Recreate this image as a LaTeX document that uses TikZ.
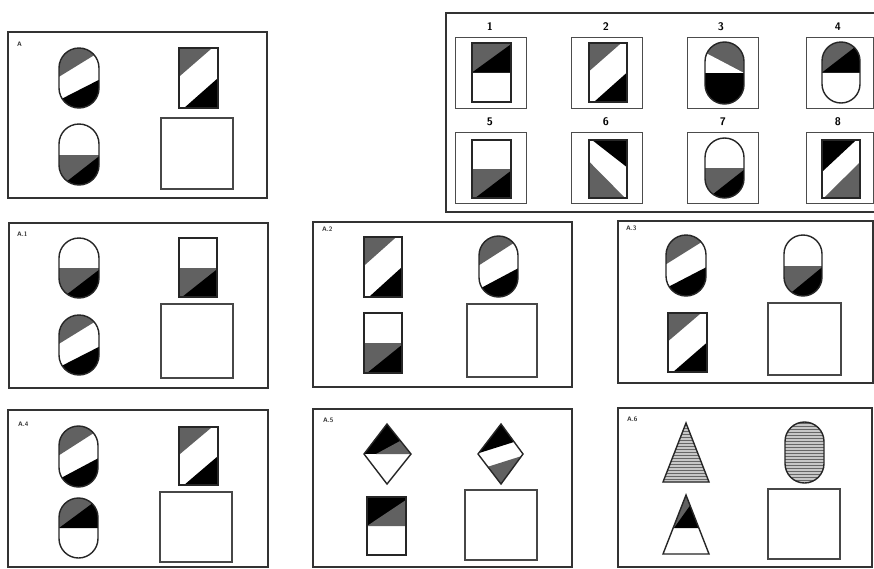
\documentclass[tikz,border=0pt]{standalone}
\colorlet{gf}{black!62}
\tikzset{
 shp/.style={line width=1.4pt, draw=black!85},
 frame/.style={line width=2pt, draw=black!80},
 ans/.style={line width=1.5pt, draw=black!72},
 optbox/.style={line width=1pt, draw=black!70},
 plabel/.style={font=\fontsize{6.5}{6.5}\selectfont\sffamily\bfseries, anchor=west, inner sep=0pt, text=black!80},
 numlabel/.style={font=\fontsize{11}{11}\selectfont\sffamily\bfseries, inner sep=0pt},
 hatchline/.style={line width=0.9pt, draw=black!60},
}
\newcommand\Capsule[5]{%
 \begin{scope}[shift={(#1,#2)}]
 \def\W{#3}\def\H{#4}%
 \begin{scope}\clip[rounded corners=#3*0.5pt] (0,0) rectangle (#3,#4); #5\end{scope}
 \draw[shp, rounded corners=#3*0.5pt] (0,0) rectangle (#3,#4);
 \end{scope}}
\newcommand\Rect[5]{%
 \begin{scope}[shift={(#1,#2)}]
 \def\W{#3}\def\H{#4}%
 \begin{scope}\clip (0,0) rectangle (#3,#4); #5\end{scope}
 \draw[shp] (0,0) rectangle (#3,#4);
 \end{scope}}
\newcommand\CapDiag{\fill[gf] (0,-1) -- (\W,-1) -- (\W,0.07*\H) -- (0,0.48*\H) -- cycle;
 \fill[black] (0,0.87*\H) -- (\W,0.53*\H) -- (\W,\H+1) -- (0,\H+1) -- cycle;}
\newcommand\RectDiag{\fill[gf] (0,0) -- (0.85*\W,0) -- (0,0.48*\H) -- cycle;
 \fill[black] (0.13*\W,\H) -- (\W,0.5*\H) -- (\W,\H) -- cycle;}
\newcommand\BotHalf{\fill[gf] (0,0.5*\H) rectangle (\W,\H+1);
 \fill[black] (0.08*\W,\H) -- (\W,0.53*\H) -- (\W,\H+1) -- (0.08*\W,\H+1) -- cycle;}
\newcommand\TopHalf{\fill[gf] (0,-1) rectangle (\W,0.5*\H);
 \fill[black] (0,0.5*\H) -- (\W,0.02*\H) -- (\W,0.5*\H) -- cycle;}
\newcommand\TopHalfRev{\fill[black] (0,-1) rectangle (\W,0.5*\H);
 \fill[gf] (0,0.5*\H) -- (\W,0.05*\H) -- (\W,0.5*\H) -- cycle;}
\newcommand\OptThree{\fill[gf] (0,-1) rectangle (\W,0.5*\H);
 \fill[white] (0,0.17*\H) -- (\W,0.5*\H) -- (0,0.5*\H) -- cycle;
 \fill[black] (0,0.5*\H) rectangle (\W,\H+1);}
\newcommand\OptSix{\fill[black] (0.08*\W,0) -- (\W,0) -- (\W,0.47*\H) -- cycle;
 \fill[gf] (0,0.37*\H) -- (0,\H) -- (0.95*\W,\H) -- cycle;}
\newcommand\OptEight{\fill[black] (0,0) -- (0.9*\W,0) -- (0,0.55*\H) -- cycle;
 \fill[gf] (0.05*\W,\H) -- (\W,0.38*\H) -- (\W,\H) -- cycle;}
\newcommand\HatchFill{\fill[black!22] (0,0) rectangle (\W,\H);
 \foreach \yy in {1.5,4.5,...,61} \draw[hatchline] (0,\yy) -- (\W,\yy);}
\begin{document}
\begin{tikzpicture}[x=1pt,y=-1pt]
\useasboundingbox (0,0) rectangle (874,568);
\fill[white] (0,0) rectangle (874,568);

% ---------- Panel A ----------
\draw[frame] (8,32) rectangle (267,198);
\node[plabel] (labA) at (17,44) {A};
\Capsule{59}{48}{40}{60}{\CapDiag}
\Rect{179}{48}{39}{60}{\RectDiag}
\Capsule{59}{124}{40}{61}{\BotHalf}
\draw[ans] (161,118) rectangle (233,189);

% ---------- Options ----------
\draw[frame] (446,13) rectangle (880,212);
\foreach \bx/\by in {455/37, 571/37, 687/37, 455/132, 571/132, 687/132}
  \draw[optbox] (\bx,\by) rectangle ++(71,71);
\draw[optbox] (806,37) rectangle (873,108);
\draw[optbox] (806,132) rectangle (873,203);
\node[numlabel] (n1) at (490,27) {1};
\node[numlabel] (n2) at (606,27) {2};
\node[numlabel] (n3) at (721,27) {3};
\node[numlabel] (n4) at (838,27) {4};
\node[numlabel] (n5) at (490,122) {5};
\node[numlabel] (n6) at (606,122) {6};
\node[numlabel] (n7) at (723,122) {7};
\node[numlabel] (n8) at (838,122) {8};
\Rect{472}{43}{39}{59}{\TopHalf}
\Rect{589}{43}{38}{59}{\RectDiag}
\Capsule{705}{42}{39}{62}{\OptThree}
\Capsule{822}{42}{38}{61}{\TopHalf}
\Rect{472}{140}{39}{58}{\BotHalf}
\Rect{589}{140}{38}{58}{\OptSix}
\Capsule{705}{138}{39}{60}{\BotHalf}
\Rect{822}{140}{38}{58}{\OptEight}

% ---------- Panel A.1 ----------
\draw[frame] (9,223) rectangle (268,388);
\node[plabel] (labA1) at (17,234) {A.1};
\Capsule{59}{238}{40}{60}{\BotHalf}
\Rect{179}{238}{38}{59}{\BotHalf}
\Capsule{59}{315}{40}{60}{\CapDiag}
\draw[ans] (161,304) rectangle (233,378);

% ---------- Panel A.2 ----------
\draw[frame] (313,222) rectangle (572,387);
\node[plabel] (labA2) at (322,229) {A.2};
\Rect{364}{237}{38}{60}{\RectDiag}
\Capsule{479}{236}{39}{61}{\CapDiag}
\Rect{364}{313}{38}{60}{\BotHalf}
\draw[ans] (467,304) rectangle (537,377);

% ---------- Panel A.3 ----------
\draw[frame] (618,221) rectangle (873,383);
\node[plabel] (labA3) at (626,228) {A.3};
\Capsule{666}{235}{40}{61}{\CapDiag}
\Capsule{784}{235}{38}{61}{\BotHalf}
\Rect{668}{313}{39}{59}{\RectDiag}
\draw[ans] (768,303) rectangle (841,375);

% ---------- Panel A.4 ----------
\draw[frame] (8,410) rectangle (268,567);
\node[plabel] (labA4) at (18,424) {A.4};
\Capsule{59}{426}{39}{61}{\CapDiag}
\Rect{179}{427}{39}{58}{\RectDiag}
\Capsule{59}{498}{39}{60}{\TopHalf}
\draw[ans] (160,492) rectangle (232,562);

% ---------- Panel A.5 ----------
\draw[frame] (313,409) rectangle (572,567);
\node[plabel] (labA5) at (323,420) {A.5};
\begin{scope}
 \clip (387,424) -- (411,454) -- (387,484) -- (364,454) -- cycle;
 \fill[black] (362,422) rectangle (413,454);
 \fill[gf] (376,454) -- (400,441) -- (413,454) -- cycle;
\end{scope}
\draw[shp] (387,424) -- (411,454) -- (387,484) -- (364,454) -- cycle;
\begin{scope}
 \clip (501,424) -- (523,454) -- (501,484) -- (478,454) -- cycle;
 \fill[black] (476,422) -- (525,422) -- (525,438.5) -- (476,454) -- cycle;
 \fill[gf] (476,470.5) -- (525,455) -- (525,486) -- (476,486) -- cycle;
\end{scope}
\draw[shp] (501,424) -- (523,454) -- (501,484) -- (478,454) -- cycle;
\Rect{367}{497}{39}{58}{\TopHalfRev}
\draw[ans] (465,490) rectangle (537,560);

% ---------- Panel A.6 ----------
\draw[frame] (618,408) rectangle (872,567);
\node[plabel] (labA6) at (627,419) {A.6};
\begin{scope}
 \clip (686,423) -- (709,482) -- (663,482) -- cycle;
 \fill[black!22] (660,420) rectangle (712,484);
 \foreach \yy in {425,428,...,482} \draw[hatchline] (660,\yy) -- (712,\yy);
\end{scope}
\draw[shp] (686,423) -- (709,482) -- (663,482) -- cycle;
\Capsule{785}{422}{39}{61}{\HatchFill}
\begin{scope}
 \clip (686,495) -- (709,554) -- (663,554) -- cycle;
 \fill[gf] (660,492) rectangle (712,528);
 \fill[black] (674,528) -- (694,500) -- (712,500) -- (712,528) -- cycle;
\end{scope}
\draw[shp] (686,495) -- (709,554) -- (663,554) -- cycle;
\draw[ans] (768,489) rectangle (840,559);
\end{tikzpicture}
\end{document}
